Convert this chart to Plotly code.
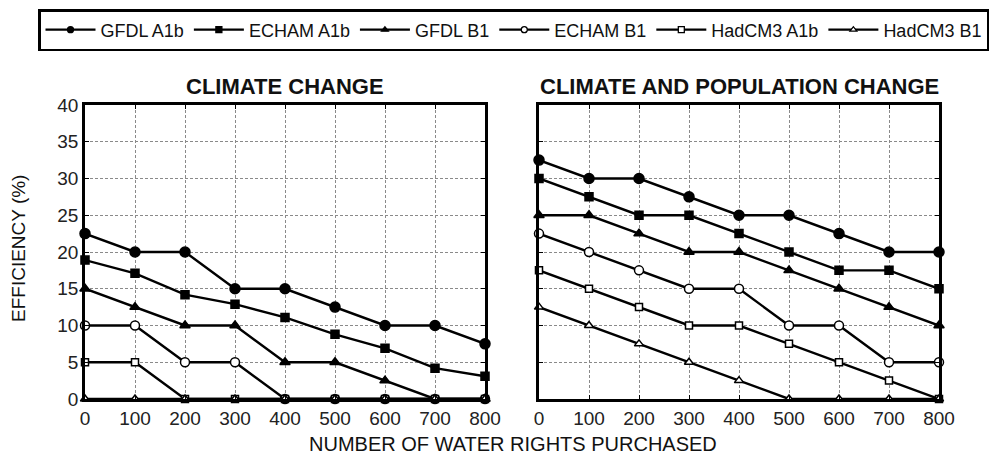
import plotly.graph_objects as go

x_vals = [0, 100, 200, 300, 400, 500, 600, 700, 800]
series_names = ["GFDL A1b", "ECHAM A1b", "GFDL B1", "ECHAM B1", "HadCM3 A1b", "HadCM3 B1"]

climate_gfdl_a1b = [22.5, 20, 20, 15, 15, 12.5, 10, 10, 7.5]
climate_echam_a1b = [18.9, 17.1, 14.2, 12.9, 11.1, 8.8, 6.9, 4.2, 3.1]
climate_gfdl_b1 = [15, 12.5, 10, 10, 5, 5, 2.5, 0, 0]
climate_echam_b1 = [10, 10, 5, 5, 0, 0, 0, 0, 0]
climate_hadcm3_a1b = [5, 5, 0, 0, 0, 0, 0, 0, 0]
climate_hadcm3_b1 = [0, 0, 0, 0, 0, 0, 0, 0, 0]

pop_gfdl_a1b = [32.5, 30, 30, 27.5, 25, 25, 22.5, 20, 20]
pop_echam_a1b = [30, 27.5, 25, 25, 22.5, 20, 17.5, 17.5, 15]
pop_gfdl_b1 = [25, 25, 22.5, 20, 20, 17.5, 15, 12.5, 10]
pop_echam_b1 = [22.5, 20, 17.5, 15, 15, 10, 10, 5, 5]
pop_hadcm3_a1b = [17.5, 15, 12.5, 10, 10, 7.5, 5, 2.5, 0]
pop_hadcm3_b1 = [12.5, 10, 7.5, 5, 2.5, 0, 0, 0, 0]

y_ticks = [0, 5, 10, 15, 20, 25, 30, 35, 40]

climate = [climate_gfdl_a1b, climate_echam_a1b, climate_gfdl_b1,
           climate_echam_b1, climate_hadcm3_a1b, climate_hadcm3_b1]
population = [pop_gfdl_a1b, pop_echam_a1b, pop_gfdl_b1,
              pop_echam_b1, pop_hadcm3_a1b, pop_hadcm3_b1]

styles = [
    ("circle", "black", 10),
    ("square", "black", 8),
    ("triangle-up", "black", 9),
    ("circle", "white", 9),
    ("square", "white", 7),
    ("triangle-up", "white", 8),
]

# The page body has an 8px margin; the figure is sized to fit the window.
OFF = 8
W, H = 997 - 2 * OFF, 465 - 2 * OFF
def px(v):
    return (v - OFF) / W
def py(v):
    return (H + OFF - v) / H

fig = go.Figure()
font_family = "Liberation Sans, Arial, sans-serif"

for panel, data in enumerate([climate, population]):
    xa = "x" if panel == 0 else "x2"
    ya = "y" if panel == 0 else "y2"
    for name, vals, (sym, fill, size) in zip(series_names, data, styles):
        fig.add_trace(go.Scatter(
            x=x_vals, y=vals, name=name, mode="lines+markers",
            xaxis=xa, yaxis=ya, showlegend=False,
            line=dict(color="black", width=2.4),
            marker=dict(symbol=sym, color=fill, size=size,
                        line=dict(color="black", width=1.5)),
            cliponaxis=False,
        ))

# legend-only entries with small markers
for name, (sym, fill, size) in zip(series_names, styles):
    fig.add_trace(go.Scatter(
        x=[None], y=[None], name=name, mode="lines+markers",
        line=dict(color="black", width=2.2),
        marker=dict(symbol=sym, color=fill, size=6,
                    line=dict(color="black", width=1.3)),
    ))

grid_color = "#8a8a8a"
axis_common = dict(
    range=[0, 800], tickvals=x_vals, ticks="inside", ticklen=4,
    tickcolor="black", showline=True, linecolor="black", linewidth=2.5,
    mirror="ticks", showgrid=True, gridcolor=grid_color, griddash="3px,2px",
    gridwidth=1, zeroline=False, automargin=False,
    tickfont=dict(family=font_family, size=19, color="#222"),
)
yaxis_common = dict(
    range=[0, 40], tickvals=y_ticks, ticks="inside", ticklen=4,
    tickcolor="black", showline=True, linecolor="black", linewidth=2.5,
    mirror="ticks", showgrid=True, gridcolor=grid_color, griddash="3px,2px",
    gridwidth=1, zeroline=False, automargin=False, ticklabelstandoff=0,
    tickfont=dict(family=font_family, size=19, color="#222"),
)

ydom = [py(399), py(105)]
fig.update_layout(
    width=W, height=H,
    margin=dict(l=0, r=0, t=0, b=0),
    paper_bgcolor="white", plot_bgcolor="white",
    xaxis=dict(domain=[px(85), px(485)], anchor="y", **axis_common),
    yaxis=dict(domain=ydom, anchor="x", **yaxis_common),
    xaxis2=dict(domain=[px(539), px(939)], anchor="y2", **axis_common),
    yaxis2=dict(domain=ydom, anchor="x2", showticklabels=False, **yaxis_common),
    legend=dict(
        orientation="h", x=px(44), y=py(9), xanchor="left", yanchor="top",
        bordercolor="black", borderwidth=2.5, bgcolor="white",
        font=dict(family=font_family, size=18, color="#111"),
        itemwidth=50, tracegroupgap=0,
    ),
    showlegend=True,
    annotations=[
        dict(text="<b>CLIMATE CHANGE</b>", x=px(285), y=py(86), xref="paper", yref="paper",
             showarrow=False, xanchor="center", yanchor="middle",
             font=dict(family=font_family, size=22, color="#111")),
        dict(text="<b>CLIMATE AND POPULATION CHANGE</b>", x=px(739), y=py(86), xref="paper", yref="paper",
             showarrow=False, xanchor="center", yanchor="middle",
             font=dict(family=font_family, size=22, color="#111")),
        dict(text="NUMBER OF WATER RIGHTS PURCHASED", x=px(513), y=py(457), xref="paper", yref="paper",
             showarrow=False, xanchor="center", yanchor="bottom",
             font=dict(family=font_family, size=20, color="#111")),
        dict(text="EFFICIENCY (%)", x=px(18), y=py(249), xref="paper", yref="paper",
             showarrow=False, xanchor="center", yanchor="middle", textangle=-90,
             font=dict(family=font_family, size=19, color="#111")),
    ],
)

fig.write_html("out.html")
